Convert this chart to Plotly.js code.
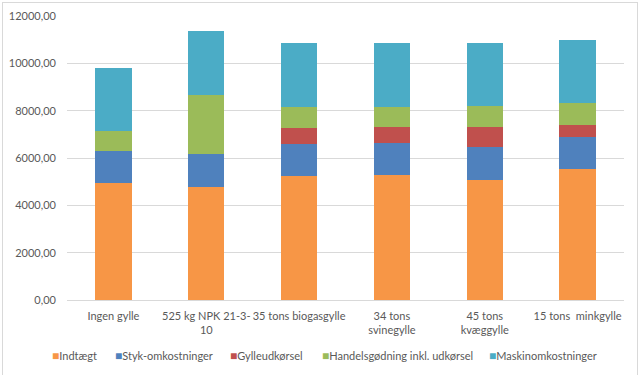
<!DOCTYPE html>
<html>
<head>
<meta charset="utf-8">
<script src="https://cdn.plot.ly/plotly-3.0.1.min.js"></script>
<style>
html,body{margin:0;padding:0;background:#fff;}
#wrap{position:relative;width:640px;height:375px;}
#chart{width:640px;height:375px;}
#frame{position:absolute;left:2px;top:2px;width:634px;height:380px;border:1px solid #d9d9d9;pointer-events:none;}
</style>
</head>
<body>
<div id="wrap"><div id="chart"></div><div id="frame"></div></div>
<script>
const categories = ["Ingen gylle", "525 kg NPK 21-3-<br>10", "35 tons biogasgylle", "34 tons<br>svinegylle", "45 tons<br>kvæggylle", "15 tons  minkgylle"];
const indtaegt = [4950, 4780, 5255, 5285, 5075, 5540];
const stykOmk = [1350, 1395, 1340, 1340, 1380, 1340];
const gylleudkoersel = [0, 0, 690, 705, 875, 535];
const handelsgoedning = [820, 2495, 875, 830, 885, 890];
const maskinomk = [2700, 2680, 2680, 2720, 2665, 2665];

const seriesNames = ["Indtægt", "Styk-omkostninger", "Gylleudkørsel", "Handelsgødning inkl. udkørsel", "Maskinomkostninger"];
const seriesValues = [indtaegt, stykOmk, gylleudkoersel, handelsgoedning, maskinomk];
const colors = ["#F79646", "#4F81BD", "#C0504D", "#9BBB59", "#4BACC6"];

const traces = seriesNames.map((n, i) => ({
  type: "bar",
  name: n,
  x: categories,
  y: seriesValues[i],
  marker: {color: colors[i], line: {width: 0}},
  hoverinfo: "none",
  showlegend: false
}));

const font = {family: "Lato, 'Open Sans', sans-serif", size: 11, color: "#595959"};

// Excel-style legend row (small square + label), placed below the axis
const legendX = [-0.031, 0.083, 0.289, 0.454, 0.754];
const annotations = seriesNames.map((n, i) => ({
  xref: "paper", yref: "paper",
  x: legendX[i], y: -0.194,
  xanchor: "left", yanchor: "middle",
  showarrow: false,
  text: "<span style='color:" + colors[i] + ";font-size:12px'>■</span>" + n,
  font: font
}));

const layout = {
  width: 640, height: 375,
  barmode: "stack",
  bargap: 0.61,
  separators: ", ",
  margin: {l: 67, r: 16, t: 16, b: 75},
  paper_bgcolor: "#fff", plot_bgcolor: "#fff",
  font: font,
  showlegend: false,
  annotations: annotations,
  xaxis: {type: "category", tickfont: font, showgrid: false, zeroline: false, showline: false, ticks: "", ticklabelstandoff: 8, automargin: false},
  yaxis: {range: [0, 12000], dtick: 2000, tickformat: ".2f", gridcolor: "#d9d9d9", gridwidth: 1, zeroline: true, zerolinecolor: "#d9d9d9", showline: false, ticks: "", ticklabelstandoff: 10, tickfont: font, automargin: false}
};

Plotly.newPlot("chart", traces, layout, {displayModeBar: false, staticPlot: true});
</script>
</body>
</html>
